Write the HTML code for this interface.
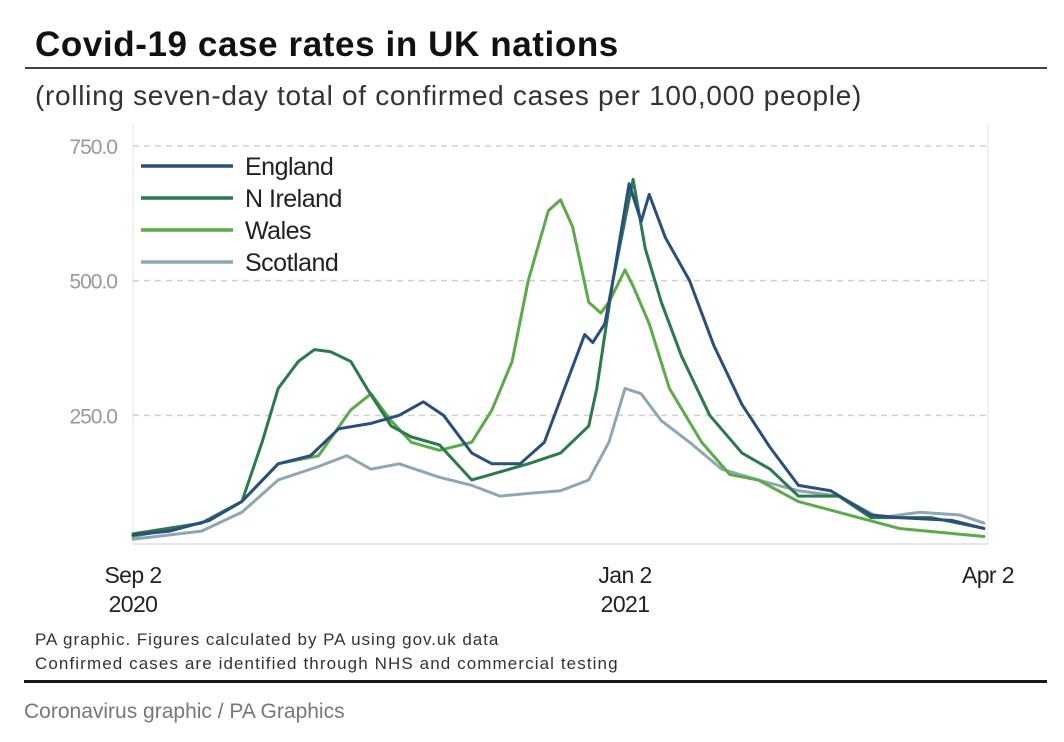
<!DOCTYPE html>
<html><head><meta charset="utf-8">
<style>
body{margin:0;background:#fff;font-family:"Liberation Sans",sans-serif;}
#wrap{position:relative;width:1064px;height:742px;overflow:hidden;}
</style></head>
<body>
<div id="wrap">
<svg id="chart" width="1064" height="742" style="position:absolute;left:0;top:0">
  <text x="35" y="56" font-size="35" font-weight="bold" fill="#111" letter-spacing="0.6">Covid-19 case rates in UK nations</text>
  <rect x="25" y="67" width="1022" height="2" fill="#444"/>
  <text x="35" y="105" font-size="28" fill="#333" letter-spacing="0.7">(rolling seven-day total of confirmed cases per 100,000 people)</text>
  <line x1="133" y1="124" x2="133" y2="544" stroke="#e6e6e6"/>
  <line x1="988" y1="124" x2="988" y2="544" stroke="#e6e6e6"/>
  <g id="grid"></g>
  <g id="yticks"></g>
  <line x1="133" y1="544" x2="988" y2="544" stroke="#ddd" stroke-width="1.5"/>
  <g id="xticks"></g>
  <g id="series"></g>
  <g id="legend"></g>
  <text x="35" y="645" font-size="17" fill="#333" letter-spacing="0.95">PA graphic. Figures calculated by PA using gov.uk data</text>
  <text x="35" y="669" font-size="17" fill="#333" letter-spacing="1.1">Confirmed cases are identified through NHS and commercial testing</text>
  <rect x="24" y="680" width="1023" height="3" fill="#1a1a1a"/>
  <text x="24" y="718" font-size="21" fill="#777">Coronavirus graphic / PA Graphics</text>
</svg>
</div>
<script>
const yTicks=[250,500,750];
const yTickLabels=["250.0","500.0","750.0"];
const xTickDays=[0,122,212];
const xTickLine1=["Sep 2","Jan 2","Apr 2"];
const xTickLine2=["2020","2021",""];
const seriesNames=["England","N Ireland","Wales","Scotland"];
const englandDays=[0,9,19,27,36,44,51,59,66,72,77,84,89,96,102,107,112,114,117,119,123,126,128,132,138,144,151,158,165,173,183,190,203,211];
const englandVals=[28,35,55,90,160,175,225,235,250,275,250,180,160,160,200,300,400,385,420,500,680,610,660,580,500,380,270,190,120,110,65,60,55,40];
const nirelandDays=[0,17,27,32,36,41,45,49,54,58,64,69,76,84,91,98,106,113,115,119,124,127,131,136,143,151,158,165,175,183,198,211];
const nirelandVals=[30,50,90,200,300,350,372,368,350,300,230,210,195,130,145,160,180,230,300,500,688,560,460,360,250,180,150,100,100,60,60,40];
const walesDays=[0,17,27,36,46,54,59,64,69,76,84,89,94,98,103,106,109,113,116,118,122,124,128,133,141,148,155,165,175,190,211];
const walesVals=[25,50,90,160,175,260,290,240,200,185,200,260,350,500,630,650,600,460,440,460,520,490,420,300,200,140,130,90,70,40,25];
const scotlandDays=[0,17,27,36,46,53,59,66,76,84,91,98,106,113,118,122,126,131,138,146,155,165,175,185,195,205,211];
const scotlandVals=[20,35,70,130,155,175,150,160,135,120,100,105,110,130,200,300,290,240,200,150,130,110,100,60,70,65,50];
const colors=["#2b4f7c","#2a7a4c","#5caa4a","#8ea7b3"];
const NS="http://www.w3.org/2000/svg";
const x=d=>133+d*(855/212);
const y=v=>550-v*0.5387;
function mk(tag,attrs,parent){const e=document.createElementNS(NS,tag);for(const k in attrs)e.setAttribute(k,attrs[k]);parent.appendChild(e);return e;}
const grid=document.getElementById('grid'),yt=document.getElementById('yticks'),xt=document.getElementById('xticks');
yTicks.forEach((v,i)=>{
  const l=mk('line',{x1:133,x2:988,y1:y(v),y2:y(v),stroke:'#d0d0d0','stroke-width':1.5,'stroke-dasharray':'6 5'},grid);
  
  
  const t=mk('text',{x:117,y:y(v)+8,'text-anchor':'end','font-size':21,fill:'#999','letter-spacing':'-1'},yt);
  t.textContent=yTickLabels[i];
  
  
});
xTickDays.forEach((d,i)=>{
  const t=mk('text',{x:x(d),y:583,'text-anchor':'middle','font-size':23,fill:'#222','letter-spacing':'-0.6'},xt);
  t.textContent=xTickLine1[i];
  
  
  if(xTickLine2[i]){
    const t2=mk('text',{x:x(d),y:612,'text-anchor':'middle','font-size':23,fill:'#222','letter-spacing':'-0.6'},xt);
    t2.textContent=xTickLine2[i];
    
    
  }
});
const sg=document.getElementById('series');
const data=[[englandDays,englandVals],[nirelandDays,nirelandVals],[walesDays,walesVals],[scotlandDays,scotlandVals]];
[3,2,1,0].forEach(i=>{
  const [ds,vs]=data[i];
  const p=mk('polyline',{points:ds.map((d,j)=>x(d)+','+y(vs[j])).join(' '),fill:'none',stroke:colors[i],'stroke-width':3,'stroke-linejoin':'round','stroke-linecap':'round'},sg);
  
  
});
const lg=document.getElementById('legend');
seriesNames.forEach((n,i)=>{
  const yy=166+i*32;
  const l=mk('line',{x1:141,x2:233,y1:yy,y2:yy,stroke:colors[i],'stroke-width':3.5},lg);
  
  
  const t=mk('text',{x:245,y:yy+9,'font-size':25,fill:'#222','letter-spacing':'-0.5'},lg);
  t.textContent=n;
  
  
});
</script>
</body></html>
